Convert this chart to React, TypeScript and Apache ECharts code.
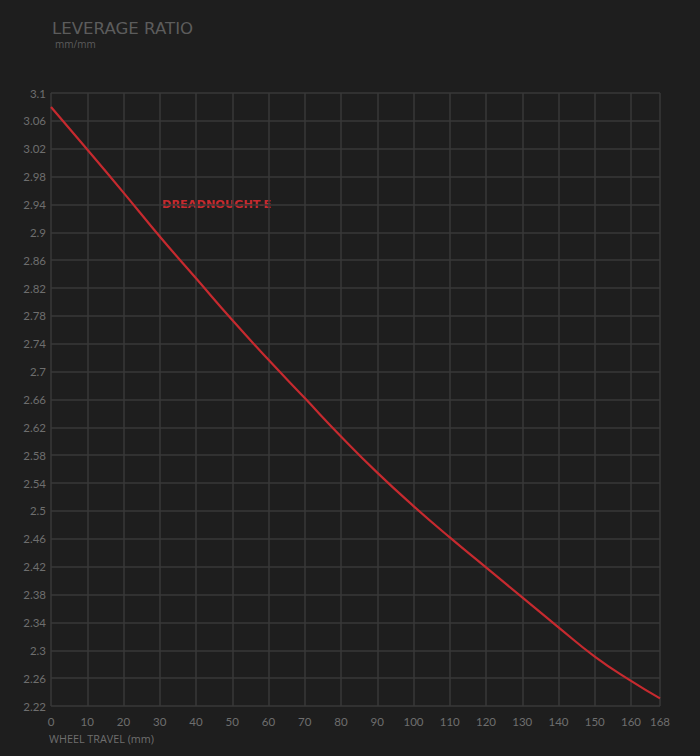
import React, { useEffect, useRef } from "react";
import * as echarts from "echarts";

const travel = [0, 10, 20, 30, 40, 50, 60, 70, 80, 90, 100, 110, 120, 130, 140, 150, 160, 168];
const leverage = [3.08, 3.019, 2.957, 2.894, 2.834, 2.774, 2.717, 2.662, 2.607, 2.555, 2.507, 2.462, 2.419, 2.376, 2.333, 2.291, 2.256, 2.231];
const seriesName = "DREADNOUGHT-E";
const titleText = "LEVERAGE RATIO";
const unitText = "mm/mm";
const xAxisTitle = "WHEEL TRAVEL (mm)";

export default function App() {
  const ref = useRef<HTMLDivElement>(null);
  useEffect(() => {
    if (!ref.current) return;
    const chart = echarts.init(ref.current, undefined, { renderer: "svg" });
    const font = "Lato, 'Open Sans', sans-serif";
    chart.setOption({
      animation: false,
      backgroundColor: "#1e1e1e",
      grid: { left: 51, right: 40, top: 93, bottom: 50, containLabel: false },
      xAxis: {
        type: "value",
        min: 0,
        max: 168,
        interval: 10,
        axisLine: { show: false },
        axisTick: { show: false },
        splitLine: { show: true, lineStyle: { color: "#393939", width: 1.5 } },
        axisLabel: { color: "#6e6e6e", fontSize: 11.5, fontFamily: font, margin: 9 },
      },
      yAxis: {
        type: "value",
        min: 2.22,
        max: 3.1,
        interval: 0.04,
        axisLine: { show: false },
        axisTick: { show: false },
        splitLine: { show: true, lineStyle: { color: "#393939", width: 1.5 } },
        axisLabel: {
          color: "#6e6e6e",
          fontSize: 11.5,
          fontFamily: font,
          margin: 5,
          formatter: (v: number) => String(parseFloat(v.toFixed(2))),
        },
      },
      series: [
        {
          type: "line",
          name: seriesName,
          data: travel.map((t, i) => [t, leverage[i]]),
          smooth: true,
          showSymbol: false,
          lineStyle: { color: "#c62a2f", width: 2.2 },
        },
      ],
      graphic: [
        {
          type: "text",
          left: 52,
          top: 20,
          style: {
            text: titleText,
            fill: "#5c5c5c",
            fontSize: 16.6,
            fontFamily: "DejaVu Sans",
            lineHeight: 16,
          },
        },
        {
          type: "text",
          left: 55,
          top: 38,
          style: { text: unitText, fill: "#5c5c5c", fontSize: 10, fontFamily: "Open Sans", lineHeight: 11 },
        },
        {
          type: "text",
          left: 162,
          top: 199,
          style: {
            text: seriesName,
            fill: "#c62a2f",
            fontSize: 11.3,
            fontWeight: "bold",
            fontFamily: "DejaVu Sans",
          },
        },
        {
          type: "text",
          left: 49,
          top: 733,
          style: { text: xAxisTitle, fill: "#6e6e6e", fontSize: 10.8, fontFamily: "Open Sans" },
        },
      ],
    });
    return () => chart.dispose();
  }, []);
  return (
    <div
      ref={ref}
      style={{ position: "absolute", left: 0, top: 0, width: 700, height: 756 }}
    />
  );
}
